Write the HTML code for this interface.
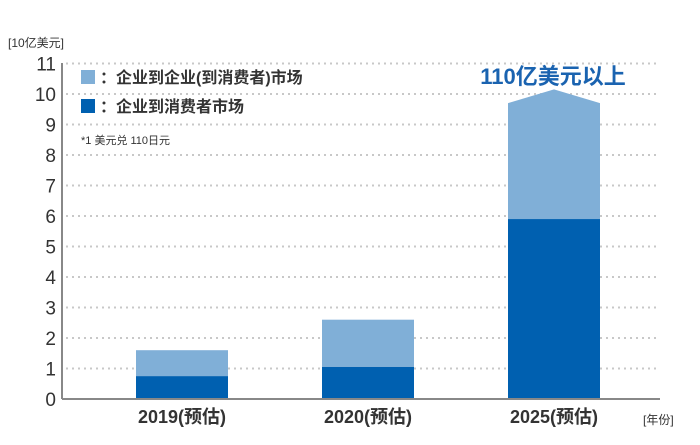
<!DOCTYPE html>
<html><head><meta charset="utf-8">
<style>
body{margin:0;background:#fff;}
svg text{font-family:"Liberation Sans","Noto Sans CJK SC",sans-serif;}
</style></head>
<body>
<svg id="chart" width="700" height="440" viewBox="0 0 700 440" xmlns="http://www.w3.org/2000/svg">
<text x="8" y="47" font-size="12" fill="#333">[10亿美元]</text>
<g id="grid"></g>
<g id="bars"></g>
<line x1="62" y1="63" x2="62" y2="399" stroke="#888" stroke-width="2"/>
<line x1="62" y1="399" x2="660" y2="399" stroke="#888" stroke-width="2"/>
<g id="yticks"></g>
<g id="xticks"></g>
<text x="643" y="424" font-size="12" fill="#333">[年份]</text>
<g>
<rect x="81" y="70" width="14" height="14" fill="#80afd7"/>
<text x="100" y="83" font-size="16" font-weight="bold" fill="#333">：企业到企业(到消费者)市场</text>
<rect x="81" y="99" width="14" height="14" fill="#0060b0"/>
<text x="100" y="112" font-size="16" font-weight="bold" fill="#333">：企业到消费者市场</text>
<text x="81" y="144" font-size="11" fill="#333">*1 美元兑 110日元</text>
</g>
<text x="553" y="84" font-size="22" font-weight="bold" fill="#1a63b0" text-anchor="middle">110亿美元以上</text>
</svg>
<script>
const categories=["2019(预估)","2020(预估)","2025(预估)"];
const b2cValues=[0.75,1.05,5.9];
const totalValues=[1.6,2.6,9.7];
const peakValues=[null,null,10.15];
const yTicks=[0,1,2,3,4,5,6,7,8,9,10,11];
const NS="http://www.w3.org/2000/svg";
const y0=399,yU=30.5;
function y(v){return y0-v*yU;}
function xc(i){return 182+i*186;}
const bw=92;
function mk(tag,attrs,parent){const e=document.createElementNS(NS,tag);for(const k in attrs)e.setAttribute(k,attrs[k]);parent.appendChild(e);return e;}
const grid=document.getElementById('grid'),bars=document.getElementById('bars'),yt=document.getElementById('yticks'),xt=document.getElementById('xticks');
yTicks.forEach(t=>{
 if(t>0){const l=mk('line',{x1:66,x2:660,y1:y(t),y2:y(t),stroke:'#c8c8c8','stroke-width':2,'stroke-dasharray':'2 4'},grid);
 
 }
 const tx=mk('text',{x:56,y:y(t)+7,'font-size':19,'text-anchor':'end',fill:'#333'},yt);tx.textContent=t;
 
 
});
categories.forEach((c,i)=>{
 const x=xc(i)-bw/2;
 let top;
 if(peakValues[i]!=null){
  top=mk('polygon',{points:`${x},${y(b2cValues[i])} ${x},${y(totalValues[i])} ${xc(i)},${y(peakValues[i])} ${x+bw},${y(totalValues[i])} ${x+bw},${y(b2cValues[i])}`,fill:'#80afd7'},bars);
 }else{
  top=mk('rect',{x:x,y:y(totalValues[i]),width:bw,height:y(b2cValues[i])-y(totalValues[i]),fill:'#80afd7'},bars);
 }
 
 
 const bot=mk('rect',{x:x,y:y(b2cValues[i]),width:bw,height:y0-y(b2cValues[i]),fill:'#0060b0'},bars);
 
 
 const tx=mk('text',{x:xc(i),y:423,'font-size':18,'text-anchor':'middle',fill:'#333','font-weight':'bold'},xt);tx.textContent=c;
 
 
});
</script>
</body></html>
